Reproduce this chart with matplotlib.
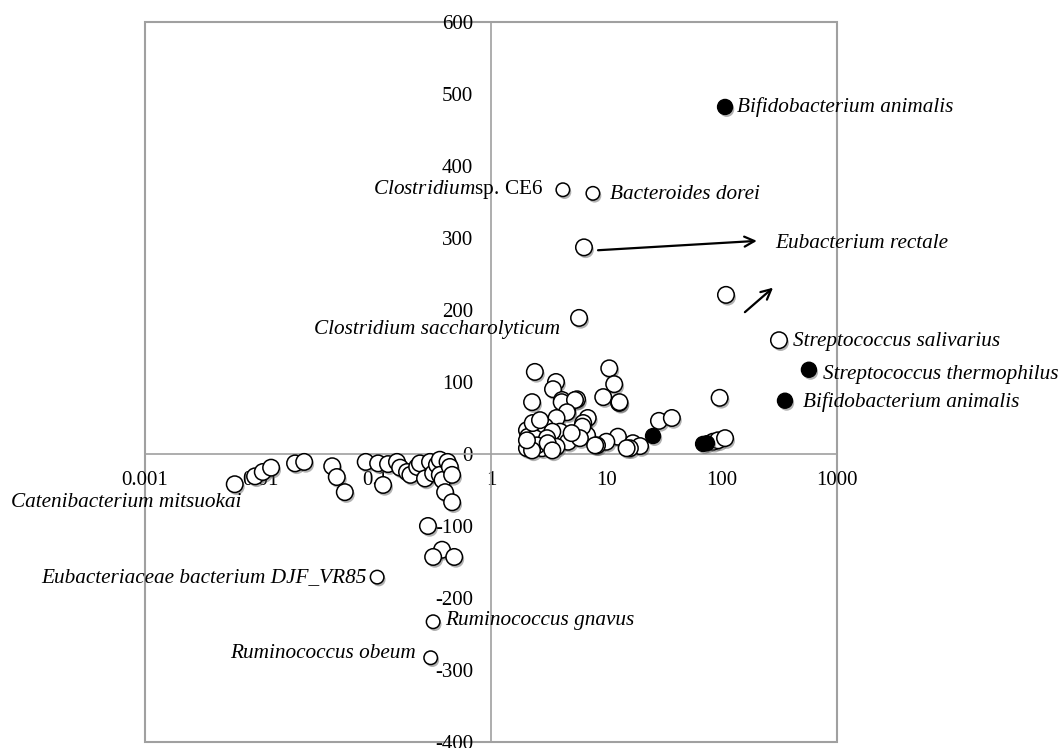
import matplotlib
matplotlib.use("Agg")
import matplotlib.pyplot as plt
import matplotlib.patheffects as pe
from matplotlib.patches import Rectangle
from matplotlib.ticker import FixedLocator, FixedFormatter, NullLocator

plt.rcParams['font.family'] = ['Liberation Serif', 'DejaVu Serif']
plt.rcParams['mathtext.fontset'] = 'custom'
plt.rcParams['mathtext.rm'] = 'Liberation Serif'
plt.rcParams['mathtext.it'] = 'Liberation Serif:italic'

# ---- data ----
open_x = [0.006, 0.009, 0.0105, 0.0124, 0.02, 0.024, 0.042, 0.046, 0.054, 0.082,
          0.105, 0.116, 0.128, 0.153, 0.163, 0.187, 0.2, 0.229, 0.242, 0.268,
          0.296, 0.315, 0.34, 0.36, 0.36, 0.38, 0.42, 0.44, 0.46, 0.4, 0.46,
          0.284, 0.376, 0.315, 0.48, 0.103, 0.315, 0.30,
          4.2, 7.65, 6.4, 109, 5.8, 314,
          2.4, 2.27, 3.66, 3.45, 4.13, 4.56, 5.57, 10.6, 11.7, 9.4, 12.9, 96,
          28.6, 37, 84, 93, 107, 17, 19.6, 16, 12.6, 10, 8.3, 6.9, 6.3, 6.8, 6.2,
          4.1, 5.35, 13, 4.55, 3.7, 2.94, 2.05, 2.1, 2.2, 2.05, 2.77, 3.6, 3.97,
          3.4, 4.66, 5.9, 2.4, 3.06, 8.0, 15, 2.5, 3.7, 2.3, 2.66, 3.1, 2.27,
          3.4, 5.0, 2.05]
open_y = [-42, -31, -25, -19, -13, -11, -17, -32, -53, -11,
          -13, -43, -14, -11, -19, -25, -29, -18, -13, -34,
          -11, -27, -15, -8, -29, -36, -11, -18, -29, -53, -67,
          -100, -133, -143, -143, -171, -233, -283,
          367, 362, 287, 221, 189, 158,
          114, 72, 100, 90, 75, 61, 76, 119, 97, 79, 71, 78,
          46, 50, 17, 19, 22, 15, 11, 8, 24, 17, 12, 50, 43, 26, 38,
          72, 75, 72, 58, 50, 38, 33, 24, 15, 8, 8, 19, 31,
          31, 17, 22, 22, 22, 12, 8, 12, 10, 43, 47, 15, 5,
          5, 29, 19]

filled_x = [107, 571, 354, 25.4, 69, 74.6]
filled_y = [482, 117, 74, 25, 14, 15]

x_ticks = [0.001, 0.01, 0.1, 1, 10, 100, 1000]
x_tick_labels = ['0.001', '0.01', '0.1', '1', '10', '100', '1000']
y_ticks = [-400, -300, -200, -100, 0, 100, 200, 300, 400, 500, 600]
y_tick_labels = ['-400', '-300', '-200', '-100', '0', '100', '200', '300', '400', '500', '600']

# (point x, point y, text, dx px, dy px, ha)
labels = [
    (107, 482, 'Bifidobacterium animalis', 12, 0, 'left'),
    (4.2, 367, r'$\mathit{Clostridium}$sp. CE6', -20, 0, 'right'),
    (7.65, 362, 'Bacteroides dorei', 17, -1, 'left'),
    (5.8, 189, 'Clostridium saccharolyticum', -19, -12, 'right'),
    (314, 158, 'Streptococcus salivarius', 14, -1, 'left'),
    (571, 117, 'Streptococcus thermophilus', 14, -5, 'left'),
    (354, 74, 'Bifidobacterium animalis', 18, -1, 'left'),
    (0.006, -42, 'Catenibacterium mitsuokai', 7, -18, 'right'),
    (0.103, -171, 'Eubacteriaceae bacterium DJF_VR85', -11, 0, 'right'),
    (0.315, -233, 'Ruminococcus gnavus', 12, 1, 'left'),
    (0.30, -283, 'Ruminococcus obeum', -15, 4, 'right'),
]
rectale_text = (290, 293, 'Eubacterium rectale')
arrows = [((8.47, 283), (202, 296)), ((159, 197), (279, 231))]

# ---- figure ----
fig = plt.figure(figsize=(10.62, 7.48), dpi=100)
W, H = 1062, 748
ax = fig.add_axes([145 / W, (H - 742) / H, (837 - 145) / W, 720 / H])
ax.set_xscale('log')
ax.set_xlim(0.001, 1000)
ax.set_ylim(-400, 600)

gray = '#a0a0a0'
for s in ['top', 'right']:
    ax.spines[s].set_visible(False)
ax.spines['left'].set_position(('data', 1))
ax.spines['bottom'].set_position(('data', 0))
ax.spines['left'].set_color(gray)
ax.spines['bottom'].set_color(gray)
ax.spines['left'].set_linewidth(1.2)
ax.spines['bottom'].set_linewidth(1.2)
ax.add_patch(Rectangle((0, 0), 1, 1, transform=ax.transAxes, fill=False,
                       edgecolor=gray, linewidth=1.5, clip_on=False, zorder=0))

ax.xaxis.set_major_locator(FixedLocator(x_ticks))
ax.xaxis.set_major_formatter(FixedFormatter(x_tick_labels))
ax.xaxis.set_minor_locator(NullLocator())
ax.yaxis.set_major_locator(FixedLocator(y_ticks))
ax.yaxis.set_major_formatter(FixedFormatter(y_tick_labels))
ax.tick_params(axis='both', length=0, labelsize=15, colors='black')
ax.tick_params(axis='x', pad=12)
ax.tick_params(axis='y', pad=13)

shadow = [pe.SimplePatchShadow(offset=(1.2, -1.8), shadow_rgbFace='#555555', alpha=0.45), pe.Normal()]

open_size = [13.5 if (yv > 300 or yv < -160) else 16.5 for yv in open_y]
ax.scatter(open_x, open_y, s=[(d * 0.72) ** 2 for d in open_size], facecolor='white',
           edgecolor='black', linewidth=1.1, zorder=3, clip_on=False, path_effects=shadow)
ax.scatter(filled_x, filled_y, s=(15 * 0.72) ** 2, facecolor='black',
           edgecolor='black', linewidth=1.0, zorder=4, clip_on=False, path_effects=shadow)

for (px, py, txt, dx, dy, ha) in labels:
    style = 'normal' if txt.startswith('$') else 'italic'
    ax.annotate(txt, (px, py), xytext=(dx * 0.72, dy * 0.72), textcoords='offset points',
                ha=ha, va='center', fontsize=15.3, style=style, zorder=5)

ax.text(rectale_text[0], rectale_text[1], rectale_text[2], ha='left', va='center',
        fontsize=15.3, style='italic', zorder=5)
for (start, end) in arrows:
    ax.annotate('', xy=end, xytext=start,
                arrowprops=dict(arrowstyle='->', color='black', lw=1.6,
                                mutation_scale=18, shrinkA=0, shrinkB=0))

fig.savefig('out.png', dpi=100)
